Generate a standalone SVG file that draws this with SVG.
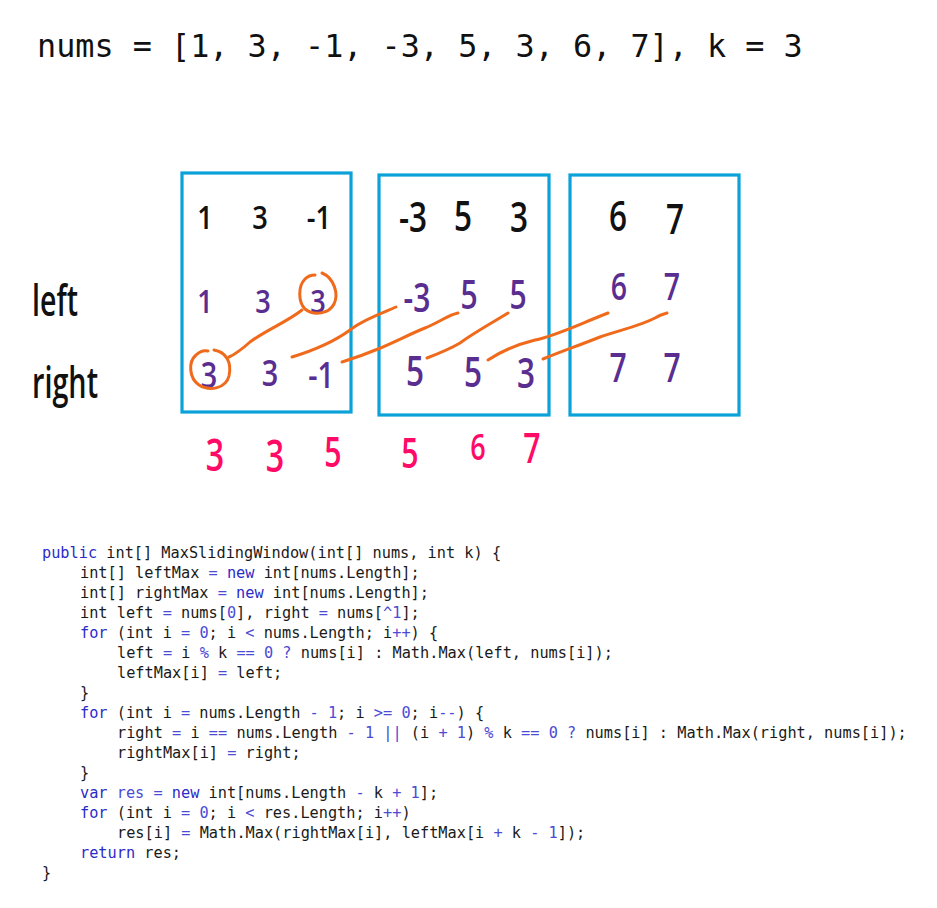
<svg xmlns="http://www.w3.org/2000/svg" width="937" height="908" viewBox="0 0 937 908">
<style>
.title{font-family:"DejaVu Sans Mono","Liberation Mono",monospace;font-size:31.8px;fill:#111}
.code{font-family:"DejaVu Sans Mono","Liberation Mono",monospace;font-size:15.25px;fill:#1a1a1a}
.kw{fill:#2b2bc8}
.op{fill:#4b4bd4}
.box{fill:none;stroke:#0aa2d8;stroke-width:3.2}
.hw{font-family:"Open Sans","Noto Sans",sans-serif;text-anchor:middle;font-weight:600}
.blk{fill:#111}
.pur{fill:#5a2d90}
.pink{fill:#ff0a66}
.lbl{font-family:"Open Sans","Noto Sans",sans-serif;font-size:44px;font-weight:600;fill:#111}
.ink{fill:none;stroke:#f06a1c;stroke-width:3;stroke-linecap:round;stroke-linejoin:round}
</style>
<rect width="937" height="908" fill="#fff"/>
<text class="title" x="37" y="57">nums = [1, 3, -1, -3, 5, 3, 6, 7], k = 3</text>

<g id="row-labels">
<text class="lbl" x="32" y="316" textLength="46" lengthAdjust="spacingAndGlyphs">left</text>
<text class="lbl" x="32" y="398" textLength="66" lengthAdjust="spacingAndGlyphs">right</text>
</g>

<g id="block1">
<rect class="box" x="182" y="173" width="169" height="239"/>
<g class="hw blk" font-size="32"><text transform="translate(205 229) scale(.85 1)">1</text><text transform="translate(260 229) scale(.85 1)">3</text><text transform="translate(319 229) scale(.85 1)">-1</text></g>
<g class="hw pur" font-size="32"><text transform="translate(205 313) scale(.85 1)">1</text><text transform="translate(263 313) scale(.85 1)">3</text><text transform="translate(318 313) scale(.85 1)">3</text></g>
<g class="hw pur" font-size="36"><text transform="translate(209 388) scale(.8 1)">3</text><text transform="translate(270 386) scale(.8 1)">3</text><text transform="translate(321 388) scale(.8 1)">-1</text></g>
</g>

<g id="block2">
<rect class="box" x="379" y="175" width="170" height="240"/>
<g class="hw blk" font-size="42"><text transform="translate(413 232) scale(.75 1)">-3</text><text transform="translate(463 231) scale(.75 1)">5</text><text transform="translate(519 232) scale(.75 1)">3</text></g>
<g class="hw pur" font-size="40"><text transform="translate(417 312) scale(.75 1)">-3</text><text transform="translate(469 309) scale(.75 1)">5</text><text transform="translate(518 309) scale(.75 1)">5</text></g>
<g class="hw pur" font-size="42"><text transform="translate(415 386) scale(.75 1)">5</text><text transform="translate(473 387) scale(.75 1)">5</text><text transform="translate(526 388) scale(.75 1)">3</text></g>
</g>

<g id="block3">
<rect class="box" x="570" y="175" width="169" height="240"/>
<g class="hw blk" font-size="42"><text transform="translate(618 231) scale(.75 1)">6</text><text transform="translate(675 234) scale(.75 1)">7</text></g>
<g class="hw pur" font-size="38"><text transform="translate(619 300) scale(.75 1)">6</text><text transform="translate(672 300) scale(.75 1)">7</text></g>
<g class="hw pur" font-size="40"><text transform="translate(618 382) scale(.75 1)">7</text><text transform="translate(672 382) scale(.75 1)">7</text></g>
</g>

<g id="results" class="hw pink">
<text transform="translate(215 471) scale(.7 1)" font-size="46">3</text>
<text transform="translate(275 472) scale(.7 1)" font-size="46">3</text>
<text transform="translate(333 467) scale(.72 1)" font-size="42">5</text>
<text transform="translate(410 468) scale(.72 1)" font-size="42">5</text>
<text transform="translate(478 460) scale(.75 1)" font-size="36">6</text>
<text transform="translate(532 463) scale(.72 1)" font-size="42">7</text>
</g>

<g id="connectors">
<path class="ink" d="M322 273 C334 278 339 294 334 304 C329 314 314 316 305 309 C298 302 298 286 305 279 C308 276 311 275 315 275"/>
<path class="ink" d="M214 350 C226 352 232 362 229 376 C226 388 210 392 199 385 C189 378 188 362 196 355 C200 351 204 350 208 351"/>
<path class="ink" d="M302 310 C287 322 266 330 250 342 C241 350 236 354 229 357"/>
<path class="ink" d="M292 357 C315 350 335 341 350 330 C362 320 380 314 396 307"/>
<path class="ink" d="M342 362 C355 358 366 354 378 349 C395 342 410 334 425 328 C440 322 448 315 458 313"/>
<path class="ink" d="M427 358 C440 353 450 349 460 343 C472 334 490 324 508 313"/>
<path class="ink" d="M488 360 C500 352 515 345 535 340 C555 336 575 326 608 313"/>
<path class="ink" d="M543 359 C560 352 580 345 600 337 C620 330 640 326 655 318 C660 315 663 314 667 313"/>
</g>

<g id="code" class="code">
<text x="42" y="558"><tspan class="kw">public</tspan> int[] MaxSlidingWindow(int[] nums, int k) {</text>
<text x="80" y="578">int[] leftMax <tspan class="op">=</tspan> <tspan class="kw">new</tspan> int[nums.Length];</text>
<text x="80" y="598">int[] rightMax <tspan class="op">=</tspan> <tspan class="kw">new</tspan> int[nums.Length];</text>
<text x="80" y="618">int left <tspan class="op">=</tspan> nums[<tspan class="op">0</tspan>], right <tspan class="op">=</tspan> nums[<tspan class="op">^1</tspan>];</text>
<text x="80" y="638"><tspan class="kw">for</tspan> (int i <tspan class="op">=</tspan> <tspan class="op">0</tspan>; i <tspan class="op">&lt;</tspan> nums.Length; i<tspan class="op">++</tspan>) {</text>
<text x="117" y="658">left <tspan class="op">=</tspan> i <tspan class="op">%</tspan> k <tspan class="op">==</tspan> <tspan class="op">0</tspan> <tspan class="op">?</tspan> nums[i] : Math.Max(left, nums[i]);</text>
<text x="117" y="678">leftMax[i] <tspan class="op">=</tspan> left;</text>
<text x="80" y="698">}</text>
<text x="80" y="718"><tspan class="kw">for</tspan> (int i <tspan class="op">=</tspan> nums.Length <tspan class="op">-</tspan> <tspan class="op">1</tspan>; i <tspan class="op">&gt;=</tspan> <tspan class="op">0</tspan>; i<tspan class="op">--</tspan>) {</text>
<text x="117" y="738">right <tspan class="op">=</tspan> i <tspan class="op">==</tspan> nums.Length <tspan class="op">-</tspan> <tspan class="op">1</tspan> <tspan class="op">||</tspan> (i <tspan class="op">+</tspan> <tspan class="op">1</tspan>) <tspan class="op">%</tspan> k <tspan class="op">==</tspan> <tspan class="op">0</tspan> <tspan class="op">?</tspan> nums[i] : Math.Max(right, nums[i]);</text>
<text x="117" y="758">rightMax[i] <tspan class="op">=</tspan> right;</text>
<text x="80" y="778">}</text>
<text x="80" y="798"><tspan class="kw">var</tspan> <tspan class="op">res</tspan> <tspan class="op">=</tspan> <tspan class="kw">new</tspan> int[nums.Length <tspan class="op">-</tspan> k <tspan class="op">+</tspan> <tspan class="op">1</tspan>];</text>
<text x="80" y="818"><tspan class="kw">for</tspan> (int i <tspan class="op">=</tspan> <tspan class="op">0</tspan>; i <tspan class="op">&lt;</tspan> res.Length; i<tspan class="op">++</tspan>)</text>
<text x="117" y="838">res[i] <tspan class="op">=</tspan> Math.Max(rightMax[i], leftMax[i <tspan class="op">+</tspan> k <tspan class="op">-</tspan> <tspan class="op">1</tspan>]);</text>
<text x="80" y="858"><tspan class="kw">return</tspan> res;</text>
<text x="42" y="878">}</text>
</g>
</svg>
